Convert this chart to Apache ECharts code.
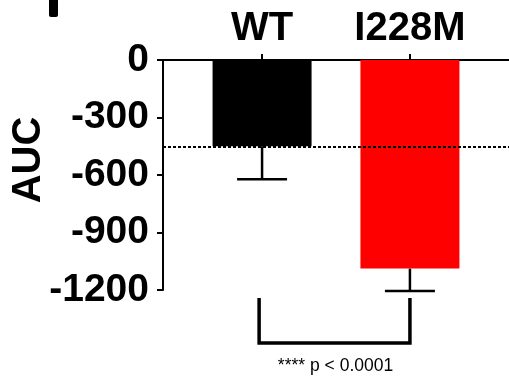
<!DOCTYPE html>
<html>
<head>
<meta charset="utf-8">
<script src="https://cdn.jsdelivr.net/npm/echarts@6/dist/echarts.min.js"></script>
<style>
html,body{margin:0;padding:0;background:#fff;}
#c{width:509px;height:382px;}
</style>
</head>
<body>
<div id="c"></div>
<script>
// ---- data ----
var categories = ['WT', 'I228M'];
var categoryPos = [1, 2];
var means = [-450, -1088];
var errLow = [-622, -1205];
var barColors = ['#000000', '#ff0000'];
var refLine = -452;
var yTicks = [0, -300, -600, -900, -1200];
var bracketPos = [0.98, 2];
var bracketLevels = [-1242, -1477];
var sigText = '**** p < 0.0001';

var font = '"Liberation Sans", Arial, Helvetica, sans-serif';
var chart = echarts.init(document.getElementById('c'), null, {renderer: 'canvas'});

var barData = categoryPos.map(function (x, i) {
  return { value: [x, means[i]], itemStyle: { color: barColors[i] } };
});
var errData = categoryPos.map(function (x, i) { return [x, means[i], errLow[i]]; });

chart.setOption({
  animation: false,
  backgroundColor: '#fff',
  grid: { left: 163, right: 0, top: 60, bottom: 92, containLabel: false },
  xAxis: {
    type: 'value', position: 'top', min: 0.33, max: 2.67,
    splitLine: { show: false },
    axisLine: { show: true, onZero: false, lineStyle: { color: '#000', width: 2 } },
    axisTick: { show: true, customValues: categoryPos, length: 6, lineStyle: { color: '#000', width: 2 } },
    axisLabel: {
      customValues: categoryPos, margin: 11,
      formatter: function (v) { return categories[Math.round(v) - 1]; },
      color: '#000', fontFamily: font, fontWeight: 'bold', fontSize: 40
    }
  },
  yAxis: {
    type: 'value', min: yTicks[yTicks.length - 1], max: yTicks[0], interval: 300,
    splitLine: { show: false },
    axisLine: { show: true, onZero: false, lineStyle: { color: '#000', width: 2 } },
    axisTick: { show: true, length: 6, lineStyle: { color: '#000', width: 2 } },
    axisLabel: {
      margin: 14, color: '#000', fontFamily: font, fontWeight: 'bold', fontSize: 39,
      formatter: function (v) { return String(v); }
    }
  },
  graphic: [
    { type: 'rect', left: 49, top: 0, shape: { width: 9, height: 17, r: [0, 0, 2, 2] }, style: { fill: '#000' } },
    { type: 'text', x: 29, y: 160, rotation: Math.PI / 2,
      style: { text: 'AUC', fill: '#000', font: 'bold 40px ' + font, align: 'center', verticalAlign: 'middle' } }
  ],
  series: [
    {
      type: 'bar', data: barData, barWidth: 99,
      markLine: {
        silent: true, symbol: ['none', 'none'], label: { show: false },
        lineStyle: { color: '#000', width: 2, type: [3, 2] },
        data: [{ yAxis: refLine }]
      }
    },
    {
      type: 'custom', clip: false, data: errData,
      renderItem: function (params, api) {
        var top = api.coord([api.value(0), api.value(1)]);
        var bot = api.coord([api.value(0), api.value(2)]);
        var half = 25;
        return {
          type: 'group',
          children: [
            { type: 'line', shape: { x1: top[0], y1: top[1], x2: bot[0], y2: bot[1] }, style: { stroke: '#000', lineWidth: 2.5 } },
            { type: 'line', shape: { x1: bot[0] - half, y1: bot[1], x2: bot[0] + half, y2: bot[1] }, style: { stroke: '#000', lineWidth: 2.5 } }
          ]
        };
      }
    },
    {
      type: 'custom', clip: false, data: [[bracketPos[0], bracketPos[1], bracketLevels[0], bracketLevels[1]]],
      renderItem: function (params, api) {
        var a = api.coord([api.value(0), api.value(2)]);
        var b = api.coord([api.value(0), api.value(3)]);
        var c = api.coord([api.value(1), api.value(3)]);
        var d = api.coord([api.value(1), api.value(2)]);
        return {
          type: 'group',
          children: [
            { type: 'polyline', shape: { points: [a, b, c, d] }, style: { stroke: '#000', lineWidth: 3.5, fill: null, lineJoin: 'miter' } },
            { type: 'text', x: (b[0] + c[0]) / 2 + 1, y: b[1] + 23,
              style: { text: sigText, fill: '#000', font: '17.5px ' + font, align: 'center', verticalAlign: 'middle' } }
          ]
        };
      }
    }
  ]
});
</script>
</body>
</html>
